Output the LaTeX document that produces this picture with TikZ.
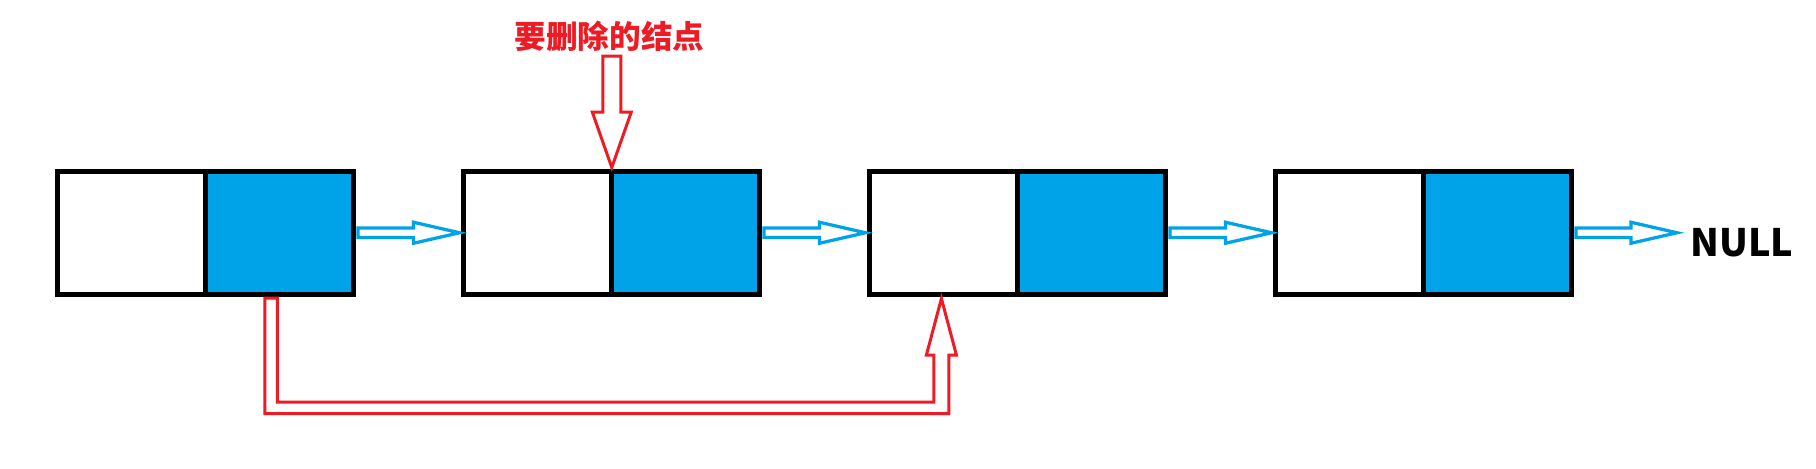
\documentclass[tikz,border=0pt]{standalone}
\usepackage{fontspec}
\newfontfamily\cjk{Noto Sans CJK SC}
\usetikzlibrary{positioning,calc}
\definecolor{paintblue}{RGB}{0,162,232}
\definecolor{paintred}{RGB}{237,28,36}
% hollow block arrow from the east side of #1 to the point #2
\newcommand{\nextlink}[2]{%
\draw[link] ($(#1)+(5,-4.65)$) -- ($(#2)+(-50,-4.65)$) -- ($(#2)+(-50,-10.5)$) -- ($(#2)+(-4,0)$)
  -- ($(#2)+(-50,10.5)$) -- ($(#2)+(-50,4.65)$) -- ($(#1)+(5,4.65)$) -- cycle;}

\begin{document}
\begin{tikzpicture}[x=.2mm,y=-.2mm,
  cell/.style={draw=black,line width=1mm,minimum width=29.55mm,minimum height=24.5mm,outer sep=0pt,inner sep=0pt},
  datacell/.style={cell,fill=white},
  nextcell/.style={cell,fill=paintblue},
  link/.style={draw=paintblue,line width=.65mm,fill=white,line join=miter},
  hint/.style={draw=paintred,line width=.6mm,fill=white,line join=miter}]
\useasboundingbox (0,0) rectangle (1816,468);
% the list
\node[datacell] (d1) at (131.4,232.75) {};
\node[nextcell,right=0pt of d1] (n1) {};
\node[datacell,right=22.1mm of n1] (d2) {};
\node[nextcell,right=0pt of d2] (n2) {};
\node[datacell,right=22.1mm of n2] (d3) {};
\node[nextcell,right=0pt of d3] (n3) {};
\node[datacell,right=22.1mm of n3] (d4) {};
\node[nextcell,right=0pt of d4] (n4) {};
\node[font=\cjk\bfseries\fontsize{21.5pt}{21.5pt}\selectfont,anchor=base west,inner sep=0pt] (nul) at (1690,256) {NULL};
\coordinate (end) at (1681,232.75);
\nextlink{n1.east}{d2.west}
\nextlink{n2.east}{d3.west}
\nextlink{n3.east}{d4.west}
\nextlink{n4.east}{end}
% node to delete
\node[text=paintred,font=\cjk\bfseries\fontsize{18pt}{18pt}\selectfont] (lbl) at (609.5,36) {要删除的结点};
\coordinate (hit) at ($(n2.north west)+(0.5,-4)$);
\draw[hint] (hit) -- ++(19.5,-55.5) -- ++(-10.5,0) -- ++(0,-56) -- ++(-18,0) -- ++(0,56) -- ++(-10.5,0) -- cycle;
% bypass link
\coordinate (from) at ($(n1.south)+(-8,4)$);
\coordinate (to) at ($(d3.south)+(-2,4.5)$);
\draw[hint] ($(from)+(-6.25,0)$) -- ++(0,115.5) -| ($(to)+(7.5,56.5)$) -- ++(7.5,0) -- (to) -- ++(-15,56.5)
  -- ++(7.5,0) |- ($(from)+(6.25,104)$) -- ($(from)+(6.25,0)$) -- cycle;
\end{tikzpicture}
\end{document}
